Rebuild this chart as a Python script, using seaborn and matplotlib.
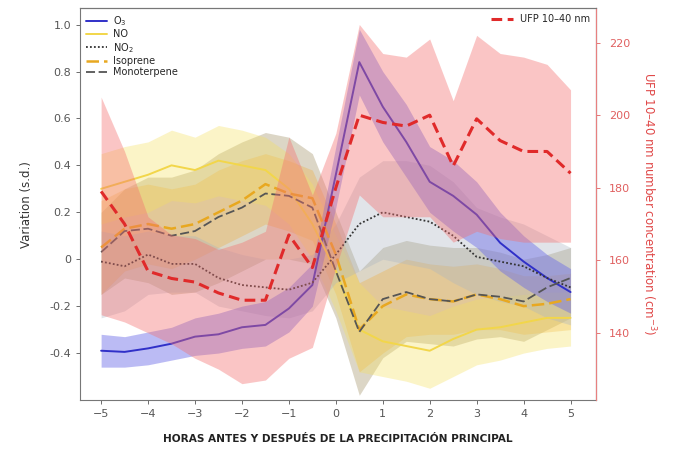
import numpy as np
import pandas as pd
import matplotlib
matplotlib.use('Agg')
import matplotlib.pyplot as plt
import seaborn as sns
from matplotlib.ticker import FuncFormatter

# Horas relativas a la precipitación principal
hours = [-5, -4.5, -4, -3.5, -3, -2.5, -2, -1.5, -1, -0.5, 0,
         0.5, 1, 1.5, 2, 2.5, 3, 3.5, 4, 4.5, 5]

# O3
o3 = [-0.39, -0.395, -0.38, -0.36, -0.33, -0.32, -0.29, -0.28, -0.21, -0.11, 0.36,
      0.84, 0.65, 0.50, 0.33, 0.27, 0.19, 0.07, -0.01, -0.08, -0.14]
o3_hi = [-0.32, -0.33, -0.31, -0.29, -0.25, -0.23, -0.20, -0.18, -0.12, -0.02, 0.48,
         0.98, 0.80, 0.66, 0.48, 0.42, 0.33, 0.20, 0.10, 0.02, -0.04]
o3_lo = [-0.46, -0.46, -0.45, -0.43, -0.41, -0.40, -0.38, -0.37, -0.31, -0.20, 0.22,
         0.70, 0.50, 0.35, 0.20, 0.12, 0.05, -0.05, -0.12, -0.18, -0.23]

# NO
no = [0.30, 0.33, 0.36, 0.40, 0.38, 0.42, 0.40, 0.38, 0.30, 0.15, -0.05,
      -0.30, -0.35, -0.37, -0.39, -0.34, -0.30, -0.29, -0.27, -0.25, -0.25]
no_hi = [0.45, 0.48, 0.50, 0.55, 0.52, 0.57, 0.55, 0.52, 0.45, 0.32, 0.10,
         -0.10, -0.20, -0.22, -0.24, -0.20, -0.17, -0.16, -0.15, -0.14, -0.14]
no_lo = [0.15, 0.18, 0.20, 0.25, 0.24, 0.27, 0.25, 0.23, 0.15, 0.00, -0.22,
         -0.48, -0.50, -0.52, -0.55, -0.50, -0.45, -0.43, -0.40, -0.38, -0.37]

# NO2
no2 = [-0.01, -0.03, 0.02, -0.02, -0.02, -0.08, -0.11, -0.12, -0.13, -0.10, 0.02,
       0.15, 0.20, 0.18, 0.16, 0.10, 0.01, -0.01, -0.03, -0.08, -0.12]
no2_hi = [0.12, 0.10, 0.12, 0.10, 0.10, 0.05, 0.02, 0.00, 0.00, 0.02, 0.15,
          0.35, 0.42, 0.42, 0.40, 0.33, 0.22, 0.18, 0.15, 0.10, 0.05]
no2_lo = [-0.25, -0.22, -0.15, -0.14, -0.14, -0.20, -0.22, -0.24, -0.25, -0.22, -0.10,
          -0.05, 0.00, -0.02, -0.04, -0.10, -0.15, -0.18, -0.20, -0.25, -0.28]

# Isopreno
iso = [0.05, 0.13, 0.15, 0.13, 0.15, 0.20, 0.25, 0.32, 0.28, 0.26, 0.02,
       -0.30, -0.20, -0.15, -0.17, -0.18, -0.15, -0.17, -0.20, -0.19, -0.17]
iso_hi = [0.25, 0.30, 0.32, 0.30, 0.32, 0.38, 0.42, 0.45, 0.42, 0.38, 0.15,
          -0.10, -0.05, 0.00, -0.02, -0.03, -0.02, -0.04, -0.07, -0.07, -0.06]
iso_lo = [-0.15, -0.05, -0.02, -0.04, 0.00, 0.05, 0.10, 0.15, 0.12, 0.08, -0.15,
          -0.48, -0.40, -0.33, -0.32, -0.32, -0.30, -0.30, -0.32, -0.31, -0.30]

# Monoterpeno
mono = [0.03, 0.12, 0.13, 0.10, 0.12, 0.18, 0.22, 0.28, 0.27, 0.22, -0.05,
        -0.31, -0.17, -0.14, -0.17, -0.18, -0.15, -0.16, -0.18, -0.12, -0.08]
mono_hi = [0.20, 0.30, 0.35, 0.35, 0.38, 0.45, 0.50, 0.54, 0.52, 0.45, 0.20,
           -0.05, 0.05, 0.08, 0.06, 0.05, 0.05, 0.03, 0.00, 0.02, 0.05]
mono_lo = [-0.15, -0.08, -0.10, -0.15, -0.14, -0.10, -0.05, 0.00, 0.00, -0.02, -0.25,
           -0.58, -0.42, -0.35, -0.36, -0.37, -0.34, -0.33, -0.35, -0.30, -0.25]

# UFP 10-40 nm (eje derecho)
ufp = [179, 170, 157, 155, 154, 151, 149, 149, 167, 158, 180,
       200, 198, 197, 200, 186, 199, 193, 190, 190, 184]
ufp_hi = [205, 190, 172, 167, 166, 163, 165, 168, 194, 178, 195,
          225, 217, 216, 221, 204, 222, 217, 216, 214, 207]
ufp_lo = [145, 143, 140, 137, 133, 130, 126, 127, 133, 136, 158,
          178, 172, 172, 172, 165, 168, 166, 165, 165, 165]

sns.set_style('ticks')
plt.rcParams['font.family'] = ['DejaVu Sans']

fig = plt.figure(figsize=(6.75, 4.53), dpi=100)
ax = fig.add_axes([0.1185, 0.117, 0.765, 0.865])

df = pd.DataFrame({'h': hours, 'o3': o3, 'no': no, 'no2': no2,
                   'iso': iso, 'mono': mono, 'ufp': ufp})

# bandas
ax.fill_between(hours, mono_lo, mono_hi, color='#9c8b5e', alpha=0.35, lw=0)
ax.fill_between(hours, iso_lo, iso_hi, color='#f0a830', alpha=0.3, lw=0)
ax.fill_between(hours, no_lo, no_hi, color='#f5e060', alpha=0.35, lw=0)
ax.fill_between(hours, no2_lo, no2_hi, color='#a9b4c2', alpha=0.35, lw=0)
ax.fill_between(hours, o3_lo, o3_hi, color='#6a6ae8', alpha=0.45, lw=0)

# lineas
sns.lineplot(data=df, x='h', y='o3', ax=ax, color='#3030c8', lw=1.4, label='O$_3$')
sns.lineplot(data=df, x='h', y='no', ax=ax, color='#f2d64a', lw=1.4, label='NO')
sns.lineplot(data=df, x='h', y='no2', ax=ax, color='#333333', lw=1.3,
             linestyle=(0, (1, 1.2)), label='NO$_2$')
sns.lineplot(data=df, x='h', y='iso', ax=ax, color='#e8a820', lw=1.8,
             linestyle=(0, (5, 2)), label='Isoprene')
sns.lineplot(data=df, x='h', y='mono', ax=ax, color='#555555', lw=1.3,
             linestyle=(0, (5, 2)), label='Monoterpene')

ax.set_xlim(-5.45, 5.55)
ax.set_ylim(-0.6, 1.07)
ax.set_xticks([-5, -4, -3, -2, -1, 0, 1, 2, 3, 4, 5])
ax.set_yticks([-0.4, -0.2, 0, 0.2, 0.4, 0.6, 0.8, 1.0])
ax.yaxis.set_major_formatter(FuncFormatter(lambda v, p: '0' if abs(v) < 1e-9 else f'{v:.1f}'))
ax.tick_params(labelsize=8, colors='#555555', length=3, width=0.6)
ax.set_xlabel('HORAS ANTES Y DESPUÉS DE LA PRECIPITACIÓN PRINCIPAL',
              fontsize=7.6, fontweight='bold', color='#222222', labelpad=11)
ax.set_ylabel('Variation (s.d.)', fontsize=8.5, color='#333333', labelpad=12)
for s in ['left', 'bottom', 'top']:
    ax.spines[s].set_color('#777777')
    ax.spines[s].set_linewidth(0.8)

leg = ax.legend(loc='upper left', frameon=False, fontsize=7, handlelength=2.2,
                labelspacing=0.15, borderaxespad=0.2, handletextpad=0.6)

# eje derecho UFP
ax2 = ax.twinx()
ax2.fill_between(hours, ufp_lo, ufp_hi, color='#f47070', alpha=0.4, lw=0)
sns.lineplot(data=df, x='h', y='ufp', ax=ax2, color='#e02a2a', lw=2.2,
             linestyle=(0, (3.5, 1.8)), label='UFP 10–40 nm')
ax2.set_ylim(121.5, 229.5)
ax2.set_yticks([140, 160, 180, 200, 220])
ax2.tick_params(labelsize=8, colors='#e06060', length=3, width=0.6, pad=6)
ax2.set_ylabel('UFP 10–40 nm number concentration (cm$^{-3}$)', fontsize=8.5,
               color='#e04848', rotation=270, labelpad=20)
ax2.set_xlabel('')
ax2.spines['right'].set_color('#e88080')
ax2.spines['right'].set_linewidth(0.8)
ax2.spines['left'].set_visible(False)
ax2.spines['top'].set_color('#777777')
ax2.spines['bottom'].set_visible(False)
ax2.legend(loc='upper right', frameon=False, fontsize=7, handlelength=2.2,
           borderaxespad=0.2)

fig.savefig('out.png', dpi=100)
